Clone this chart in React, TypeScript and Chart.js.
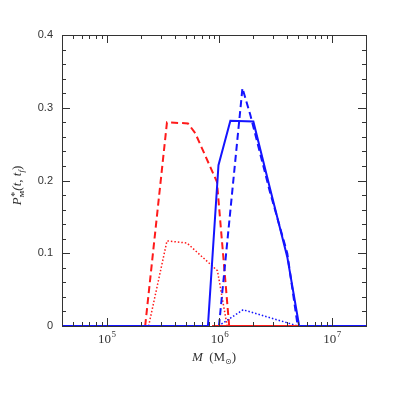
import React, { useEffect, useRef } from "react";
import { Chart, registerables } from "chart.js";

Chart.register(...registerables);

// ---- data (x in solar masses, y = probability) ----
const redDashedX = [2.19e5, 3.42e5, 5.25e5, 6.1e5, 9.5e5, 1.22e6];
const redDashedY = [0, 0.28, 0.2785, 0.265, 0.198, 0];

const redDottedX = [2.35e5, 3.42e5, 5.15e5, 9.6e5, 1.17e6];
const redDottedY = [0, 0.117, 0.114, 0.076, 0];

const redSolidX = [8.6e5, 5.1e6];
const redSolidY = [0, 0];

const blueSolidX = [4e4, 7.9e5, 9.8e5, 1.25e6, 2.0e6, 2.8e6, 4.0e6, 5.1e6, 2e7];
const blueSolidY = [0, 0, 0.221, 0.282, 0.281, 0.19, 0.095, 0, 0];

const blueDashedX = [9.9e5, 1.6e6, 1.88e6, 2.8e6, 4.0e6, 4.95e6];
const blueDashedY = [0, 0.327, 0.29, 0.185, 0.1, 0];

const blueDottedX = [9.8e5, 1.62e6, 5.0e6];
const blueDottedY = [0, 0.0223, 0];

const xMin = 4e4;
const xMax = 2e7;
const yMin = 0;
const yMax = 0.4;

const yMajorTicks = [0, 0.1, 0.2, 0.3, 0.4];
const yTickLabels = ["0", "0.1", "0.2", "0.3", "0.4"];
const yMinorStep = 0.02;

const xMajorTicks = [1e5, 1e6, 1e7];
const xTickBases = ["10", "10", "10"];
const xTickExps = ["5", "6", "7"];

const RED = "#ff1a1a";
const BLUE = "#1414ff";

function pts(xs: number[], ys: number[]) {
  return xs.map((x, i) => ({ x, y: ys[i] }));
}

const framePlugin = {
  id: "framePlugin",
  afterDraw(chart: any) {
    const ctx = chart.ctx as CanvasRenderingContext2D;
    const { left, right, top, bottom } = chart.chartArea;
    const xs = chart.scales.x;
    const ys = chart.scales.y;
    ctx.save();
    ctx.strokeStyle = "#333";
    ctx.lineWidth = 1;
    ctx.strokeRect(Math.round(left) + 0.5, Math.round(top) + 0.5, Math.round(right - left), Math.round(bottom - top));

    const line = (x1: number, y1: number, x2: number, y2: number) => {
      ctx.beginPath();
      ctx.moveTo(x1, y1);
      ctx.lineTo(x2, y2);
      ctx.stroke();
    };

    // y ticks (left and right, inward)
    for (let v = yMin; v <= yMax + 1e-9; v += yMinorStep) {
      const y = Math.round(ys.getPixelForValue(v)) + 0.5;
      const major = yMajorTicks.some((t) => Math.abs(t - v) < 1e-6);
      const len = major ? 8 : 4;
      line(left, y, left + len, y);
      line(right, y, right - len, y);
    }
    // x ticks (bottom and top, inward)
    for (let e = 4; e <= 7; e++) {
      for (let k = 1; k <= 9; k++) {
        const v = k * Math.pow(10, e);
        if (v < xMin || v > xMax) continue;
        const x = Math.round(xs.getPixelForValue(v)) + 0.5;
        const len = k === 1 ? 8 : 4;
        line(x, bottom, x, bottom - len);
        line(x, top, x, top + len);
      }
    }

    // y tick labels
    ctx.fillStyle = "#333";
    ctx.font = "11px 'Liberation Sans', Arial, sans-serif";
    ctx.textAlign = "right";
    ctx.textBaseline = "middle";
    yMajorTicks.forEach((t, i) => {
      ctx.fillText(yTickLabels[i], left - 9, ys.getPixelForValue(t));
    });

    // x tick labels 10^n
    ctx.textBaseline = "alphabetic";
    xMajorTicks.forEach((t, i) => {
      const x = xs.getPixelForValue(t);
      ctx.font = "13px 'Liberation Serif', 'Times New Roman', serif";
      const wb = ctx.measureText(xTickBases[i]).width;
      ctx.font = "9px 'Liberation Serif', 'Times New Roman', serif";
      const we = ctx.measureText(xTickExps[i]).width;
      const x0 = x - (wb + we) / 2;
      ctx.textAlign = "left";
      ctx.font = "13px 'Liberation Serif', 'Times New Roman', serif";
      ctx.fillText(xTickBases[i], x0, bottom + 17);
      ctx.font = "9px 'Liberation Serif', 'Times New Roman', serif";
      ctx.fillText(xTickExps[i], x0 + wb + 0.5, bottom + 11);
    });

    // x axis title: M (M_sun)
    {
      const cx = (left + right) / 2;
      const base = bottom + 35;
      const parts: [string, string, number][] = [
        ["M", "italic 13px 'Liberation Serif', serif", 0],
        ["  (M", "13px 'Liberation Serif', serif", 0],
        ["\u2299", "8px 'DejaVu Sans', serif", 3],
        [")", "13px 'Liberation Serif', serif", 0],
      ];
      let total = 0;
      parts.forEach(([s, f]) => {
        ctx.font = f;
        total += ctx.measureText(s).width;
      });
      let x = cx - total / 2;
      ctx.textAlign = "left";
      parts.forEach(([s, f, dy]) => {
        ctx.font = f;
        ctx.fillText(s, x, base + dy);
        x += ctx.measureText(s).width;
      });
    }

    // y axis title: P*_M(t, t_f)
    {
      ctx.save();
      ctx.translate(21, (top + bottom) / 2 + 5);
      ctx.rotate(-Math.PI / 2);
      const parts: [string, string, number][] = [
        ["P", "italic 13px 'Liberation Serif', serif", 0],
        ["*", "10px 'Liberation Serif', serif", -4],
        ["M", "bold 7px 'Liberation Serif', serif", 3],
        ["(t, t", "italic 13px 'Liberation Serif', serif", 0],
        ["f", "italic 9px 'Liberation Serif', serif", 3],
        [")", "13px 'Liberation Serif', serif", 0],
      ];
      let total = 0;
      const widths: number[] = [];
      parts.forEach(([s, f]) => {
        ctx.font = f;
        const w = ctx.measureText(s).width;
        widths.push(w);
        total += w;
      });
      total -= widths[1];
      let x = -total / 2;
      ctx.textAlign = "left";
      parts.forEach(([s, f, dy], i) => {
        ctx.font = f;
        if (i === 1) {
          ctx.fillText(s, x + 0.5, dy + 1);
          return;
        }
        ctx.fillText(s, x, dy);
        x += widths[i];
      });
      ctx.restore();
    }
    ctx.restore();
  },
};

export default function App() {
  const ref = useRef<HTMLCanvasElement | null>(null);
  useEffect(() => {
    if (!ref.current) return;
    const common = { pointRadius: 0, fill: false, tension: 0, borderJoinStyle: "miter" as const };
    const chart = new Chart(ref.current, {
      type: "line",
      data: {
        datasets: [
          { ...common, data: pts(redSolidX, redSolidY), borderColor: RED, borderWidth: 2, order: 0 },
          { ...common, data: pts(blueDottedX, blueDottedY), borderColor: BLUE, borderWidth: 1.5, borderDash: [1.5, 2], order: 1 },
          { ...common, data: pts(blueDashedX, blueDashedY), borderColor: BLUE, borderWidth: 2, borderDash: [7, 4], order: 2 },
          { ...common, data: pts(blueSolidX, blueSolidY), borderColor: BLUE, borderWidth: 2, order: 3 },
          { ...common, data: pts(redDottedX, redDottedY), borderColor: RED, borderWidth: 1.5, borderDash: [1.5, 2], order: 4 },
          { ...common, data: pts(redDashedX, redDashedY), borderColor: RED, borderWidth: 2, borderDash: [7, 4], order: 5 },
        ],
      },
      options: {
        responsive: false,
        animation: false,
        events: [],
        layout: { padding: { left: 62, top: 35, right: 33, bottom: 73 } },
        plugins: { legend: { display: false }, tooltip: { enabled: false } },
        scales: {
          x: { type: "logarithmic", min: xMin, max: xMax, display: false },
          y: { type: "linear", min: yMin, max: yMax, display: false },
        },
      },
      plugins: [framePlugin],
    });
    return () => chart.destroy();
  }, []);
  return (
    <div style={{ position: "fixed", left: 0, top: 0, width: 399, height: 399, background: "#fff" }}>
      <canvas ref={ref} width={399} height={399} style={{ width: 399, height: 399 }} />
    </div>
  );
}
